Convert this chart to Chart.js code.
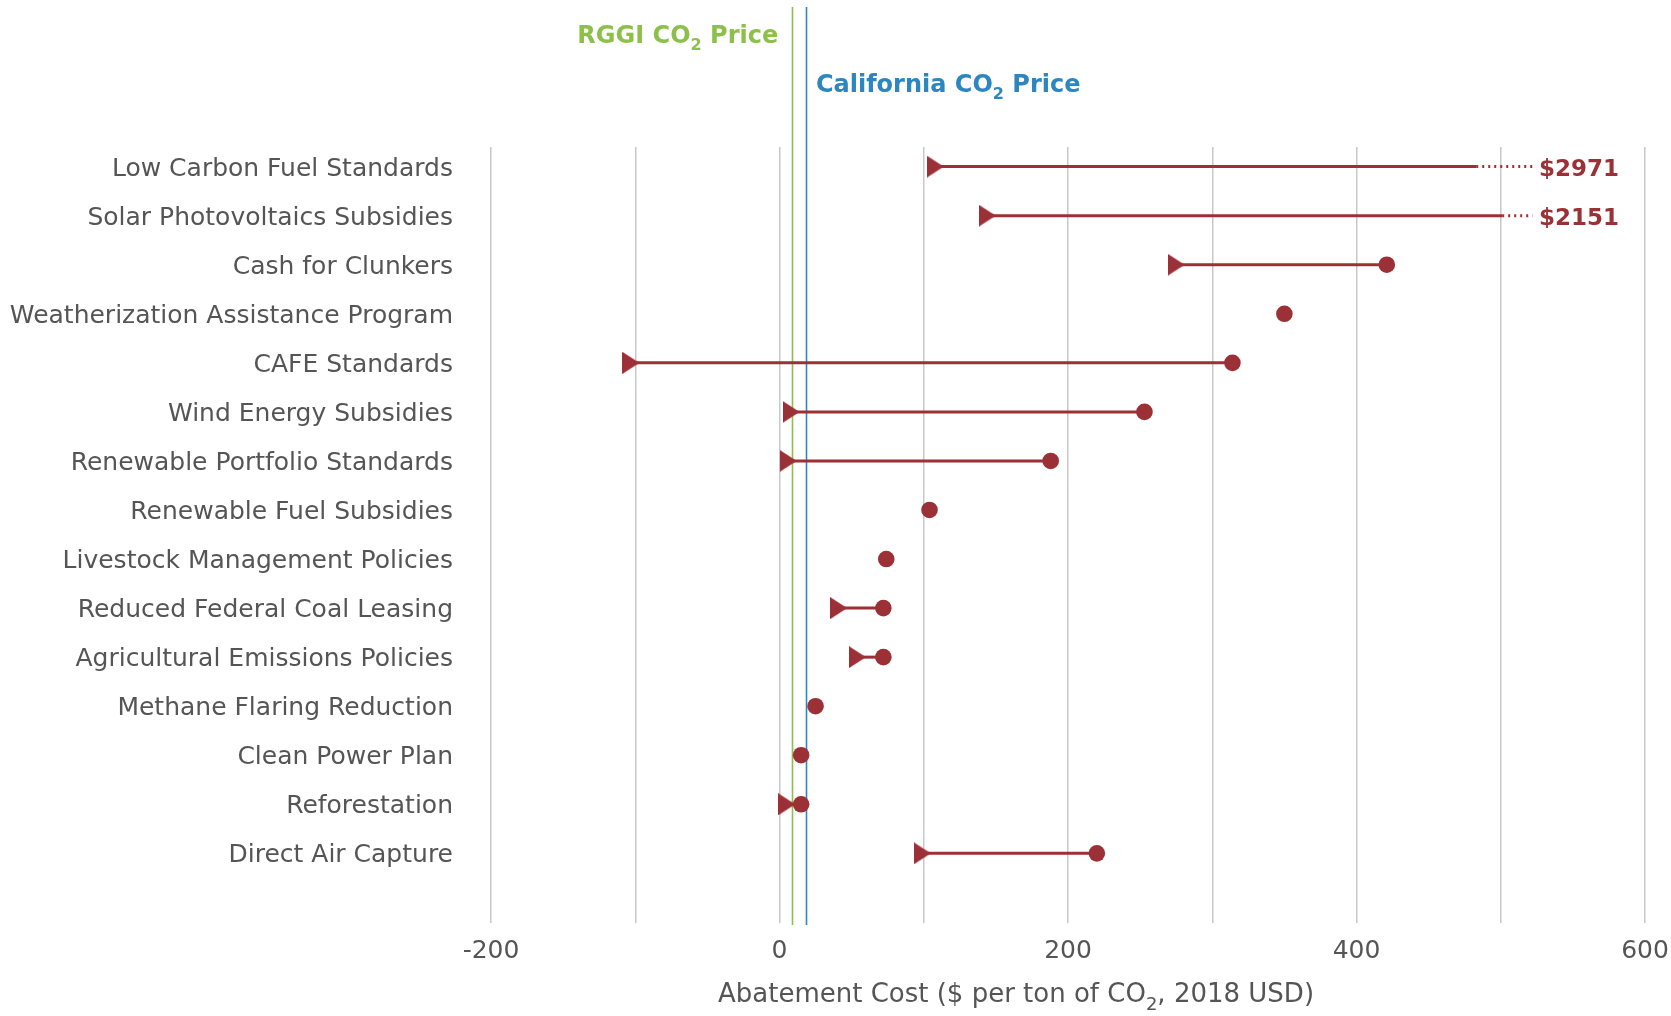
<!DOCTYPE html>
<html><head><meta charset="utf-8">
<script src="https://cdn.jsdelivr.net/npm/chart.js@4.4.1/dist/chart.umd.min.js"></script>
<style>html,body{margin:0;padding:0;background:#fff;}#wrap{position:relative;width:1671px;height:1016px;}</style>
</head><body><div id="wrap"><canvas id="c" width="1671" height="1016"></canvas></div>
<script>
// ---- data ----
const categories = [
  "Low Carbon Fuel Standards",
  "Solar Photovoltaics Subsidies",
  "Cash for Clunkers",
  "Weatherization Assistance Program",
  "CAFE Standards",
  "Wind Energy Subsidies",
  "Renewable Portfolio Standards",
  "Renewable Fuel Subsidies",
  "Livestock Management Policies",
  "Reduced Federal Coal Leasing",
  "Agricultural Emissions Policies",
  "Methane Flaring Reduction",
  "Clean Power Plan",
  "Reforestation",
  "Direct Air Capture"
];
const lowValues  = [108, 144, 275, null, -103, 8, 6, null, null, 41, 54, null, null, 5, 99];
const highValues = [2971, 2151, 421, 350, 314, 253, 188, 104, 74, 72, 72, 25, 15, 15, 220];
const axisBreakAt = [483, 501, null, null, null, null, null, null, null, null, null, null, null, null, null];
const dottedTo = 522;
const offChartLabels = ["$2971", "$2151"];
const xMin = -200, xMax = 600, xStep = 100, xLabelStep = 200;
const rggiPrice = 8.8;
const californiaPrice = 18.3;
const xTitleParts = [["Abatement Cost ($ per ton of CO", false], ["2", true], [", 2018 USD)", false]];
const rggiLabelParts = [["RGGI CO", false], ["2", true], [" Price", false]];
const caLabelParts = [["California CO", false], ["2", true], [" Price", false]];

// ---- styles ----
const RED = "#9b3136", GREEN = "#8dc04a", BLUE = "#2c87c1", GREY = "#555555", GRID = "#c8c8c8";
const FONT = "'DejaVu Sans', sans-serif";

function makeTriangle() {
  const cv = document.createElement("canvas");
  cv.width = 17; cv.height = 22;
  const g = cv.getContext("2d");
  g.fillStyle = RED;
  g.beginPath(); g.moveTo(0, 0); g.lineTo(17, 11); g.lineTo(0, 22); g.closePath(); g.fill();
  return cv;
}

function drawParts(ctx, parts, x, y, size, weight, color, align) {
  const subSize = Math.round(size * 0.68);
  let total = 0;
  const widths = parts.map(([t, sub]) => {
    ctx.font = `${weight} ${sub ? subSize : size}px ${FONT}`;
    const w = ctx.measureText(t).width; total += w; return w;
  });
  let cx = align === "right" ? x - total : align === "center" ? x - total / 2 : x;
  ctx.fillStyle = color; ctx.textAlign = "left"; ctx.textBaseline = "alphabetic";
  parts.forEach(([t, sub], i) => {
    ctx.font = `${weight} ${sub ? subSize : size}px ${FONT}`;
    ctx.fillText(t, cx, sub ? y + size * 0.3 : y);
    cx += widths[i];
  });
}

const overlay = {
  id: "overlay",
  beforeDraw(chart) {
    // nudge category labels so their visual centre sits on the row
    const items = chart.scales.y.getLabelItems();
    items.forEach(it => { if (!it._nudged) { it.options.translation[1] += 2.5; it._nudged = true; } });
  },
  beforeDatasetsDraw(chart) {
    const ctx = chart.ctx, xs = chart.scales.x, a = chart.chartArea;
    ctx.save();
    [[rggiPrice, GREEN], [californiaPrice, BLUE]].forEach(([v, col]) => {
      const px = Math.round(xs.getPixelForValue(v)) + 0.5;
      ctx.strokeStyle = col; ctx.lineWidth = 1.6;
      ctx.beginPath(); ctx.moveTo(px, 7); ctx.lineTo(px, a.bottom + 2); ctx.stroke();
    });
    ctx.restore();
  },
  afterDraw(chart) {
    const ctx = chart.ctx, xs = chart.scales.x, ys = chart.scales.y;
    ctx.save();
    offChartLabels.forEach((t, i) => {
      ctx.font = `700 23px ${FONT}`;
      ctx.fillStyle = RED; ctx.textAlign = "right"; ctx.textBaseline = "middle";
      ctx.fillText(t, xs.getPixelForValue(582), ys.getPixelForValue(i + 1) + 3);
    });
    const rx = xs.getPixelForValue(rggiPrice), cx = xs.getPixelForValue(californiaPrice);
    drawParts(ctx, rggiLabelParts, rx - 14, 42.5, 24, 700, GREEN, "right");
    drawParts(ctx, caLabelParts, cx + 10, 91.5, 24, 700, BLUE, "left");
    drawParts(ctx, xTitleParts, 1016, 1002, 26, 400, GREY, "center");
    ctx.restore();
  }
};

function build() {
  Chart.defaults.font.family = FONT;
  const tri = makeTriangle();
  const datasets = [];
  categories.forEach((c, i) => {
    const y = i + 1;
    const lo = lowValues[i], hi = highValues[i];
    if (lo !== null && hi !== null) {
      const end = axisBreakAt[i] !== null ? axisBreakAt[i] : hi;
      datasets.push({ type: "scatter", data: [{ x: lo, y }, { x: end, y }], showLine: true,
        borderColor: RED, borderWidth: 3, pointRadius: 0, order: 5 });
      if (axisBreakAt[i] !== null) {
        datasets.push({ type: "scatter", data: [{ x: axisBreakAt[i], y }, { x: dottedTo, y }], showLine: true,
          borderColor: RED, borderWidth: 3, borderDash: [2, 4], pointRadius: 0, order: 5 });
      }
    }
  });
  datasets.push({ type: "scatter", label: "low",
    data: lowValues.map((v, i) => v === null ? null : { x: v, y: i + 1 }).filter(Boolean),
    pointStyle: tri, pointRadius: 10, order: 1 });
  datasets.push({ type: "scatter", label: "high",
    data: highValues.map((v, i) => (v === null || v > xMax) ? null : { x: v, y: i + 1 }).filter(Boolean),
    pointStyle: "circle", pointRadius: 8.3, backgroundColor: RED, borderWidth: 0, order: 1 });

  new Chart(document.getElementById("c"), {
    type: "scatter",
    data: { datasets },
    plugins: [overlay],
    options: {
      responsive: false, animation: false, devicePixelRatio: 1,
      layout: { padding: { top: 147, right: 26, left: 0, bottom: 0 } },
      plugins: { legend: { display: false }, tooltip: { enabled: false } },
      scales: {
        x: {
          type: "linear", min: xMin, max: xMax,
          afterFit(s) { s.height = 93; s.paddingLeft = 0; s.paddingRight = 0; },
          afterBuildTicks(s) { const t = []; for (let v = xMin; v <= xMax; v += xStep) t.push({ value: v }); s.ticks = t; },
          ticks: { autoSkip: false, maxRotation: 0, padding: 13, color: GREY, font: { size: 25 },
            callback: v => (v % xLabelStep === 0 ? String(v) : "") },
          grid: { color: GRID, lineWidth: 1.5, drawTicks: false },
          border: { display: false }
        },
        y: {
          type: "linear", reverse: true, min: 0.6, max: 16.42,
          afterFit(s) { s.width = 491; s.paddingTop = 0; s.paddingBottom = 0; },
          afterBuildTicks(s) { s.ticks = categories.map((c, i) => ({ value: i + 1 })); },
          ticks: { autoSkip: false, padding: 38, color: GREY, font: { size: 25 },
            callback: v => categories[v - 1] || "" },
          grid: { display: false, drawTicks: false },
          border: { display: false }
        }
      }
    }
  });
}
if (document.fonts && document.fonts.load) {
  Promise.all([document.fonts.load(`25px "DejaVu Sans"`), document.fonts.load(`700 25px "DejaVu Sans"`)]).then(build, build);
} else build();
</script></body></html>
